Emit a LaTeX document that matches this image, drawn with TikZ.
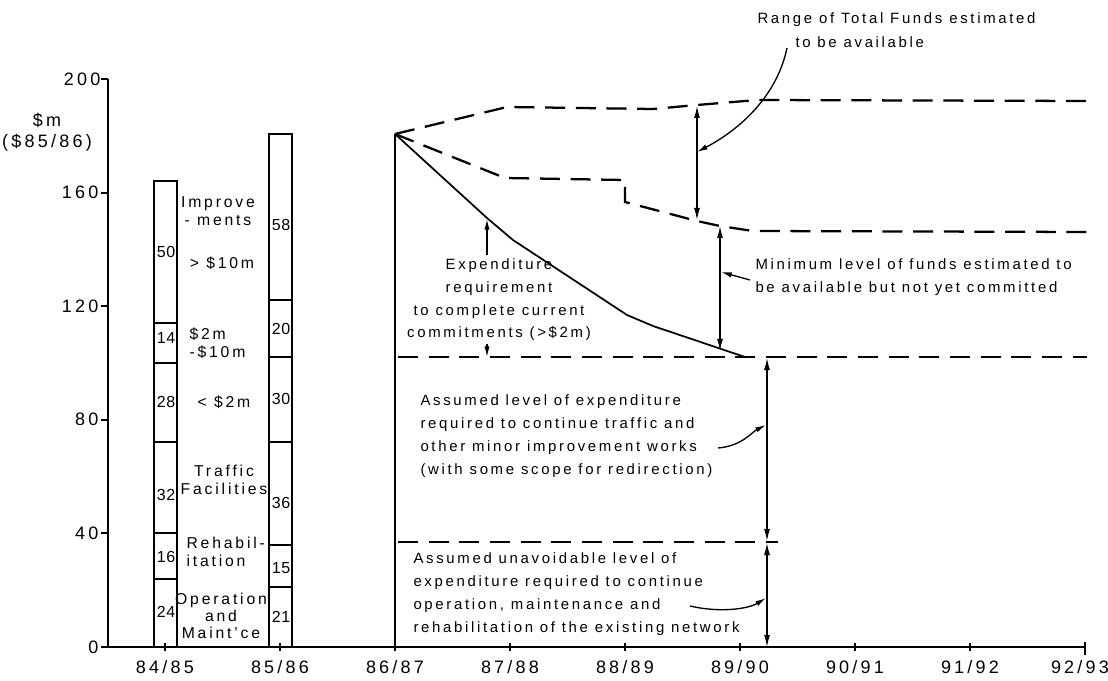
\documentclass[tikz,border=0pt]{standalone}
\usepackage{fontspec}
\setmainfont{Liberation Sans}[LetterSpace=18]
\newfontfamily\narrowfont{Liberation Sans}[LetterSpace=4]
\usetikzlibrary{arrows.meta}

\tikzset{every picture/.style={line width=0.75pt}}
\tikzset{
  axisline/.style={line width=2.2pt},
  tickline/.style={line width=1.5pt},
  barline/.style={line width=1.5pt},
  fundline/.style={line width=1.7pt, dash pattern={on 15pt off 8pt}},
  reqline/.style={line width=1.3pt},
  twohead/.style={line width=1pt, {Latex[length=9pt,width=4.5pt]}-{Latex[length=9pt,width=4.5pt]}},
  onehead/.style={line width=1pt, -{Latex[length=8pt,width=4pt]}},
  numlab/.style={inner sep=0pt, font=\fontsize{13.5}{15}\selectfont},
  barnum/.style={inner sep=0pt, font=\narrowfont\fontsize{12}{13}\selectfont},
  barlab/.style={inner sep=0pt, font=\fontsize{11.8}{13.5}\selectfont},
  notelab/.style={inner sep=0pt, align=left, font=\fontsize{11.2}{17}\selectfont},
}

\begin{document}
\begin{tikzpicture}[x=0.75pt,y=0.75pt,yscale=-1,xscale=1]
\useasboundingbox (0,0) rectangle (1108,681);

%Axes
\draw [axisline]  (108,79) -- (108,647) -- (1085,647) ;
%Y ticks
\draw [tickline]  (101,79) -- (108,79) ;
\draw [tickline]  (101,192.6) -- (108,192.6) ;
\draw [tickline]  (101,306.2) -- (108,306.2) ;
\draw [tickline]  (101,419.8) -- (108,419.8) ;
\draw [tickline]  (101,533.4) -- (108,533.4) ;
\draw [tickline]  (101,647) -- (108,647) ;
%X ticks
\draw [tickline]  (165,643) -- (165,651) ;
\draw [tickline]  (280,643) -- (280,651) ;
\draw [tickline]  (395,643) -- (395,651) ;
\draw [tickline]  (510,643) -- (510,651) ;
\draw [tickline]  (625,643) -- (625,651) ;
\draw [tickline]  (740,643) -- (740,651) ;
\draw [tickline]  (855,643) -- (855,651) ;
\draw [tickline]  (970,643) -- (970,651) ;
\draw [tickline]  (1085,642) -- (1085,655) ;

% Y labels
\node [numlab, anchor=east] (yl200) at (101,79) {200};
\node [numlab, anchor=east] (yl160) at (99,192.6) {160};
\node [numlab, anchor=east] (yl120) at (99,306.2) {120};
\node [numlab, anchor=east] (yl80) at (99,419.8) {80};
\node [numlab, anchor=east] (yl40) at (99,533.4) {40};
\node [numlab, anchor=east] (yl0) at (99,647) {0};
\node [numlab] (yunit) at (47,120) {\$m};
\node [numlab] (yprice) at (47,143) {(\$85/86)};

% X labels
\node [numlab] (xl8485) at (165,667) {84/85};
\node [numlab] (xl8586) at (280,667) {85/86};
\node [numlab] (xl8687) at (395,667) {86/87};
\node [numlab] (xl8788) at (510,667) {87/88};
\node [numlab] (xl8889) at (625,667) {88/89};
\node [numlab] (xl8990) at (740,667) {89/90};
\node [numlab] (xl9091) at (855,667) {90/91};
\node [numlab] (xl9192) at (970,667) {91/92};
\node [numlab] (xl9293) at (1080,667) {92/93};

%Bar 84/85
\draw [barline]  (154,647) -- (154,181) -- (177,181) -- (177,647) ;
\draw [barline]  (154,579) -- (177,579) ;
\draw [barline]  (154,533) -- (177,533) ;
\draw [barline]  (154,442) -- (177,442) ;
\draw [barline]  (154,363) -- (177,363) ;
\draw [barline]  (154,323) -- (177,323) ;
\node [barnum] (b1om) at (166,612) {24};
\node [barnum] (b1rh) at (166,557) {16};
\node [barnum] (b1tf) at (166,495) {32};
\node [barnum] (b1sm) at (166,402) {28};
\node [barnum] (b1md) at (166,338) {14};
\node [barnum] (b1lg) at (166,252) {50};

%Bar 85/86
\draw [barline]  (269,647) -- (269,134) -- (292,134) -- (292,647) ;
\draw [barline]  (269,587) -- (292,587) ;
\draw [barline]  (269,545) -- (292,545) ;
\draw [barline]  (269,442) -- (292,442) ;
\draw [barline]  (269,357) -- (292,357) ;
\draw [barline]  (269,300) -- (292,300) ;
\node [barnum] (b2om) at (281,617) {21};
\node [barnum] (b2rh) at (281,568) {15};
\node [barnum] (b2tf) at (281,503) {36};
\node [barnum] (b2sm) at (281,399) {30};
\node [barnum] (b2md) at (281,329) {20};
\node [barnum] (b2lg) at (281,225) {58};

% Bar category labels
\node [barlab, align=center] (catlg) at (218,211) {Improve\\- ments};
\node [barlab] (catlgb) at (222,263) {> \$10m};
\node [barlab, align=left, anchor=west] (catmd) at (189,343) {\$2m\\-\$10m};
\node [barlab] (catsm) at (224,402) {< \$2m};
\node [barlab, align=center] (cattf) at (224,480) {Traffic\\Facilities};
\node [barlab, align=left, anchor=west] (catrh) at (186,552) {Rehabil-\\itation};
\node [barlab, align=center, font=\fontsize{11.8}{12.7}\selectfont] (catom) at (221,616) {Operation\\and\\Maint'ce};

%Start of projection
\coordinate (start) at (395,134);
\draw [reqline]  (start) -- (395,647) ;
%Upper range of funds
\draw [fundline]  (start) -- (507,107) -- (653,109) -- (697,105) -- (757,100) -- (1087,101) ;
%Lower range of funds
\draw [fundline]  (start) -- (505,178) -- (625,180) -- (625,202) -- (697,221) -- (720,226) -- (753,231) -- (1087,232) ;
%Expenditure requirement
\draw [reqline]  (start) -- (487,218) -- (513,240) -- (627,315) -- (653,326) -- (745,357) ;
%Level 102
\draw [fundline]  (398,357) -- (1087,357) ;
%Level 37
\draw [fundline]  (398,542) -- (778,542) ;

% Range arrows
\coordinate (rtop) at (697,106);
\coordinate (rbot) at (697,220);
\coordinate (rmid) at (697,152);
\draw [twohead]  (rtop) -- (rbot) ;
\coordinate (mtop) at (720,226);
\coordinate (mbot) at (720,351);
\coordinate (mmid) at (721,272);
\draw [twohead]  (mtop) -- (mbot) ;
\coordinate (ctop) at (767,358);
\coordinate (cbot) at (767,541);
\coordinate (cmid) at (766,425);
\draw [twohead]  (ctop) -- (cbot) ;
\coordinate (otop) at (767,543);
\coordinate (obot) at (767,647);
\coordinate (omid) at (766,598);
\draw [twohead]  (otop) -- (obot) ;

% Text Node
\node [notelab, anchor=west] (rangetop) at (757,20) {Range of Total Funds estimated};
\node [notelab, anchor=west] (rangebot) at (795,42) {to be available};
\node [notelab, anchor=west] (minnote) at (755,277) {Minimum level of funds estimated to\\be available but not yet committed};
\node [notelab, align=center] (reqnote) at (499,300) {Expenditure\\requirement\\to complete current\\commitments (>\$2m)};
\node [notelab, anchor=west, font=\fontsize{11.2}{17.2}\selectfont] (trafnote) at (420,436) {Assumed level of expenditure\\required to continue traffic and\\other minor improvement works\\(with some scope for redirection)};
\node [notelab, anchor=west, font=\fontsize{11.2}{17.2}\selectfont] (opnote) at (413,594) {Assumed unavoidable level of\\expenditure required to continue\\operation, maintenance and\\rehabilitation of the existing network};

% Leaders
\coordinate (rangetail) at (787,48);
\draw [onehead]  (rangetail) .. controls (776,100) and (735,132) .. (rmid) ;
\coordinate (mintail) at (750,280);
\draw [onehead]  (mintail) -- (mmid) ;
\coordinate (trafftail) at (718,448);
\draw [onehead]  (trafftail) .. controls (742,446) and (752,432) .. (cmid) ;
\coordinate (optail) at (690,606);
\draw [onehead]  (optail) .. controls (720,613) and (748,609) .. (omid) ;
\coordinate (reqtop) at (487,219);
\draw [onehead]  (reqnote.north -| reqtop) ++(0,-4) -- (reqtop) ;
\coordinate (reqbot) at (487,357);
\draw [onehead]  (487,344) -- (reqbot) ;

\end{tikzpicture}
\end{document}
